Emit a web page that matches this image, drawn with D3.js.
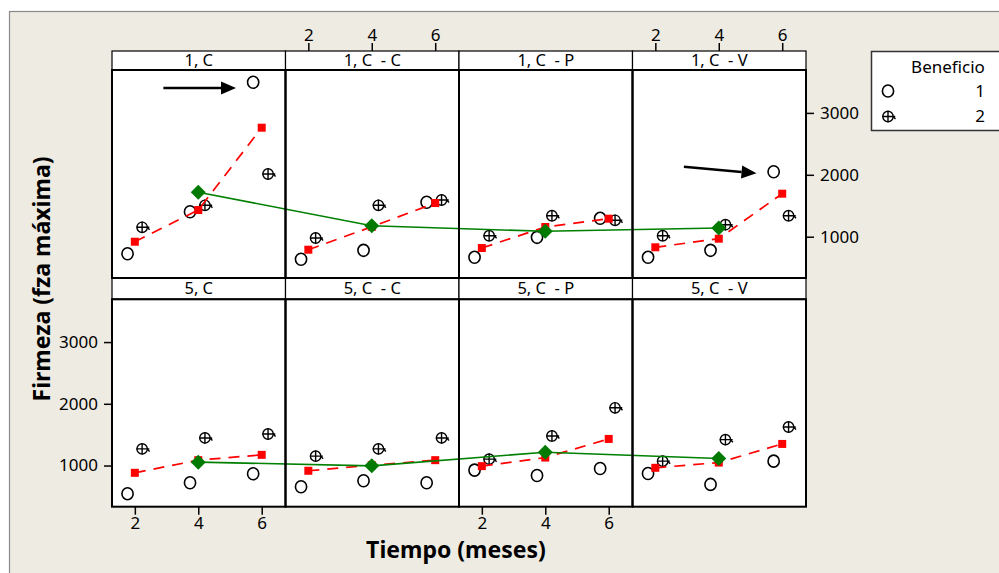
<!DOCTYPE html>
<html>
<head>
<meta charset="utf-8">
<script src="https://cdn.jsdelivr.net/npm/d3@7"></script>
<style>
  html, body { margin: 0; padding: 0; background: #fff; }
  svg { display: block; }
  text { font-family: "Noto Sans", "Liberation Sans", sans-serif; fill: #000; }
</style>
</head>
<body>
<svg id="chart" width="999" height="573"></svg>
<script>
// Panel layout: two rows (factor 1 / 5) by four treatments
const filas = ["1", "5"];
const tratamientos = ["C", "C  - C", "C  - P", "C  - V"];
const tiempos = [2, 4, 6];

// Horizontal positions of the individual observations (slightly dodged)
const tiempoBen1 = [1.77, 3.74, 5.73];
const tiempoBen2 = [2.23, 4.21, 6.20];

// Firmeza, Beneficio 1 (open circles), panel order: 1C, 1CC, 1CP, 1CV, 5C, 5CC, 5CP, 5CV
const beneficio1 = [
  [725, 1404, 3494],
  [635, 780, 1556],
  [667, 990, 1297],
  [667, 780, 2050],
  [544, 721, 866],
  [656, 753, 721],
  [926, 839, 952],
  [871, 694, 1071]
];

// Firmeza, Beneficio 2 (crossed circles)
const beneficio2 = [
  [1152, 1507, 2013],
  [979, 1507, 1593],
  [1016, 1339, 1265],
  [1016, 1194, 1339],
  [1269, 1447, 1511],
  [1152, 1269, 1447],
  [1103, 1479, 1935],
  [1071, 1419, 1624]
];

// Mean per time (red squares, dashed line)
const mediasTiempo = [
  [919, 1431, 2761],
  [790, 1160, 1544],
  [817, 1157, 1291],
  [829, 968, 1695],
  [882, 1087, 1173],
  [915, 1005, 1087],
  [990, 1129, 1431],
  [963, 1048, 1350]
];

// Mean per panel (green diamonds, joined across the row)
const mediasPanel = [
  [1717, 1178, 1087, 1141],
  [1055, 995, 1216, 1113]
];

// Axis ticks
const ticksX = [2, 4, 6];
const ticksY = [1000, 2000, 3000];

// Highlight arrows: [panel index, x0, y0, x1, y1]
const flechas = [
  [0, 2.90, 3402, 5.19, 3402],
  [3, 2.90, 2131, 5.19, 2024]
];

const leyendaTitulo = "Beneficio";
const leyendaNiveles = ["1", "2"];

// ---------- geometry ----------
const svg = d3.select("#chart");
const colX = [112, 285.5, 459, 632.5];
const colW = 173.5;
const stripY = [51, 278];
const stripH = [19, 21];
const plotTop = [70, 299.3];
const plotBot = [278, 506.7];

const xDom = [1.28, 6.75];
const yDom = [333, 3693];
const xs = colX.map(x0 => d3.scaleLinear().domain(xDom).range([x0, x0 + colW]));
const ys = [0, 1].map(r => d3.scaleLinear().domain(yDom).range([plotBot[r], plotTop[r]]));
const fmt = d3.format("d");

// background and frame
svg.append("rect").attr("width", 999).attr("height", 573).attr("fill", "#fff");
svg.append("rect").attr("x", 9.5).attr("y", 11.5).attr("width", 1000).attr("height", 600)
  .attr("fill", "#EEEBE2").attr("stroke", "#8a8a8a").attr("stroke-width", 1.2);

// panels
filas.forEach((f, r) => {
  tratamientos.forEach((t, c) => {
    svg.append("rect").attr("x", colX[c]).attr("y", plotTop[r])
      .attr("width", colW).attr("height", plotBot[r] - plotTop[r])
      .attr("fill", "#fff");
    svg.append("rect").attr("x", colX[c]).attr("y", stripY[r])
      .attr("width", colW).attr("height", stripH[r])
      .attr("fill", "#fff").attr("stroke", "#000").attr("stroke-width", 1.2);
    svg.append("text")
      .attr("x", colX[c] + colW / 2).attr("y", stripY[r] + stripH[r] / 2 + 1)
      .attr("text-anchor", "middle").attr("dominant-baseline", "middle")
      .style("white-space", "pre")
      .attr("font-size", 16.5)
      .text(`${f}, ${t}`);
  });
});

// axes
function styleAxis(g) {
  g.select(".domain").remove();
  g.selectAll(".tick line").attr("stroke", "#000").attr("stroke-width", 1.5);
  g.selectAll(".tick text").attr("font-size", 17)
    .attr("font-family", "Noto Sans, Liberation Sans, sans-serif");
}
[1, 3].forEach(c => {
  svg.append("g").attr("transform", `translate(0,${stripY[0]})`)
    .call(d3.axisTop(xs[c]).tickValues(ticksX).tickFormat(fmt).tickSize(8).tickPadding(2))
    .call(styleAxis);
});
[0, 2].forEach(c => {
  svg.append("g").attr("transform", `translate(0,${plotBot[1]})`)
    .call(d3.axisBottom(xs[c]).tickValues(ticksX).tickFormat(fmt).tickSize(8).tickPadding(2))
    .call(styleAxis);
});
svg.append("g").attr("transform", `translate(${colX[0]},0)`)
  .call(d3.axisLeft(ys[1]).tickValues(ticksY).tickFormat(fmt).tickSize(8).tickPadding(6))
  .call(styleAxis);
svg.append("g").attr("transform", `translate(${colX[3] + colW},0)`)
  .call(d3.axisRight(ys[0]).tickValues(ticksY).tickFormat(fmt).tickSize(8).tickPadding(6))
  .call(styleAxis);

// symbols
function circulo(g, x, y) {
  g.append("ellipse").attr("cx", x).attr("cy", y).attr("rx", 5.6).attr("ry", 6)
    .attr("fill", "none").attr("stroke", "#000").attr("stroke-width", 1.6);
}
function cruz(g, x, y) {
  const s = g.append("g").attr("transform", `translate(${x},${y})`)
    .attr("fill", "none").attr("stroke", "#000").attr("stroke-width", 1.4);
  s.append("circle").attr("r", 5.2);
  s.append("path").attr("d", "M0,-5.7V5.7M-5.7,0H7.2M5.5,0.5L7.5,2.5");
}

const capaPuntos = svg.append("g");
const capaMedias = svg.append("g");
const capaGeneral = svg.append("g");

filas.forEach((f, r) => {
  tratamientos.forEach((t, c) => {
    const p = r * 4 + c;
    const x = xs[c], y = ys[r];
    beneficio1[p].forEach((v, i) => circulo(capaPuntos, x(tiempoBen1[i]), y(v)));
    beneficio2[p].forEach((v, i) => cruz(capaPuntos, x(tiempoBen2[i]), y(v)));

    const pts = tiempos.map((tt, i) => [x(tt), y(mediasTiempo[p][i])]);
    capaMedias.append("path").attr("d", d3.line()(pts))
      .attr("fill", "none").attr("stroke", "#ff0000").attr("stroke-width", 1.7)
      .attr("stroke-dasharray", "11,8");
    capaMedias.selectAll(null).data(pts).join("rect")
      .attr("x", d => d[0] - 4).attr("y", d => d[1] - 4)
      .attr("width", 8).attr("height", 8).attr("fill", "#ff0000");
  });

  const ptsG = tratamientos.map((t, c) => [xs[c](4), ys[r](mediasPanel[r][c])]);
  capaGeneral.append("path").attr("d", d3.line()(ptsG))
    .attr("fill", "none").attr("stroke", "#008000").attr("stroke-width", 1.6);
  capaGeneral.selectAll(null).data(ptsG).join("path")
    .attr("transform", d => `translate(${d[0]},${d[1]})`)
    .attr("d", "M0,-7.5L7.5,0L0,7.5L-7.5,0Z").attr("fill", "#007a00");
});

// panel borders on top
filas.forEach((f, r) => {
  tratamientos.forEach((t, c) => {
    svg.append("rect").attr("x", colX[c]).attr("y", plotTop[r])
      .attr("width", colW).attr("height", plotBot[r] - plotTop[r])
      .attr("fill", "none").attr("stroke", "#000").attr("stroke-width", 2);
  });
});

// arrows
flechas.forEach(([p, x0, y0, x1, y1]) => {
  const r = Math.floor(p / 4), c = p % 4;
  const ax = xs[c](x0), ay = ys[r](y0), bx = xs[c](x1), by = ys[r](y1);
  const ang = Math.atan2(by - ay, bx - ax);
  const L = 15, W = 6.5;
  const hx = bx - L * Math.cos(ang), hy = by - L * Math.sin(ang);
  svg.append("line").attr("x1", ax).attr("y1", ay).attr("x2", hx).attr("y2", hy)
    .attr("stroke", "#000").attr("stroke-width", 2.5);
  const pA = [hx - W * Math.sin(ang), hy + W * Math.cos(ang)];
  const pB = [hx + W * Math.sin(ang), hy - W * Math.cos(ang)];
  svg.append("path").attr("d", `M${bx},${by}L${pA}L${pB}Z`).attr("fill", "#000");
});

// legend
const lg = svg.append("g");
lg.append("rect").attr("x", 871.5).attr("y", 51.5).attr("width", 140).attr("height", 79)
  .attr("fill", "#fff").attr("stroke", "#333").attr("stroke-width", 1.5);
lg.append("text").attr("x", 948).attr("y", 73).attr("text-anchor", "middle")
  .attr("font-size", 17).text(leyendaTitulo);
circulo(lg, 888, 91);
cruz(lg, 888, 116.5);
leyendaNiveles.forEach((n, i) => {
  lg.append("text").attr("x", 985).attr("y", 92 + i * 25.5).attr("text-anchor", "end")
    .attr("dominant-baseline", "middle").attr("font-size", 17).text(n);
});

// axis titles
svg.append("text").attr("x", 456).attr("y", 558).attr("text-anchor", "middle")
  .attr("font-size", 23).attr("font-weight", "bold").text("Tiempo (meses)");
svg.append("text").attr("transform", "translate(50,279) rotate(-90)")
  .attr("text-anchor", "middle").attr("font-size", 23).attr("font-weight", "bold")
  .text("Firmeza (fza máxima)");
</script>
</body>
</html>
